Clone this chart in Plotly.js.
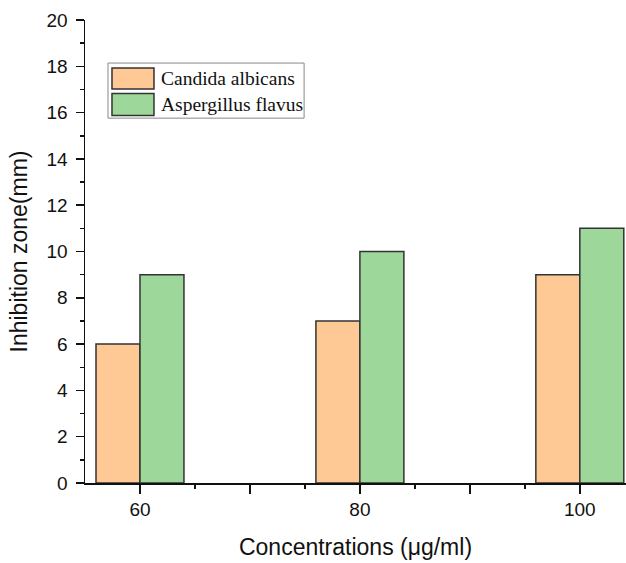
<!DOCTYPE html>
<html>
<head>
<meta charset="utf-8">
<script src="https://cdn.plot.ly/plotly-3.0.1.min.js"></script>
<style>html,body{margin:0;padding:0;background:#fff;}#chart{width:626px;height:563px;}</style>
</head>
<body>
<div id="chart"></div>
<script>
const concentrations = [60, 80, 100];
const candida = [6, 7, 9];
const aspergillus = [9, 10, 11];
const seriesNames = ['Candida albicans', 'Aspergillus flavus'];
const xTickVals = [60, 70, 80, 90, 100];
const xTickText = ['60', '', '80', '', '100'];
const yTickVals = [0, 2, 4, 6, 8, 10, 12, 14, 16, 18, 20];

const orange = '#FFC996';
const green = '#9DD89A';
const edge = '#333333';

const traces = [
  {type: 'bar', x: concentrations, y: candida, name: seriesNames[0], width: 4, offset: -4,
   marker: {color: orange, line: {color: edge, width: 1.5}}, showlegend: false},
  {type: 'bar', x: concentrations, y: aspergillus, name: seriesNames[1], width: 4, offset: 0,
   marker: {color: green, line: {color: edge, width: 1.5}}, showlegend: false}
];

const fam = 'Liberation Sans, Arial, sans-serif';
const serif = {family: 'Liberation Serif, Times New Roman, serif', size: 19.5, color: '#111'};

// legend (paper coordinates)
const lx0 = 0.0425, lx1 = 0.405, ly1 = 0.907, ly0 = 0.788;
const sw = [[0.0499, 0.1275, 0.8963, 0.8510], [0.0499, 0.1275, 0.8413, 0.7937]];
const colors = [orange, green];
const shapes = [{type: 'rect', xref: 'paper', yref: 'paper', x0: lx0, x1: lx1, y0: ly0, y1: ly1,
  line: {color: '#888', width: 1}, fillcolor: 'rgba(255,255,255,1)'}];
const annotations = [];
seriesNames.forEach((n, i) => {
  shapes.push({type: 'rect', xref: 'paper', yref: 'paper', x0: sw[i][0], x1: sw[i][1], y0: sw[i][3], y1: sw[i][2],
    line: {color: edge, width: 1.5}, fillcolor: colors[i]});
  annotations.push({xref: 'paper', yref: 'paper', x: 0.136, y: (sw[i][2] + sw[i][3]) / 2,
    xanchor: 'left', yanchor: 'middle', showarrow: false, text: n, font: serif});
});

const layout = {
  width: 626, height: 563,
  margin: {l: 85, r: 0, t: 20, b: 80},
  paper_bgcolor: '#fff', plot_bgcolor: '#fff',
  font: {family: fam, color: '#111'},
  xaxis: {
    range: [55, 104.2], showgrid: false, zeroline: false,
    showline: true, linecolor: '#111', linewidth: 1.5,
    tickmode: 'array', tickvals: xTickVals, ticktext: xTickText,
    ticks: 'outside', ticklen: 9, tickwidth: 1.5, tickcolor: '#111',
    minor: {tickvals: [65, 75, 85, 95], ticks: 'outside', ticklen: 4, tickwidth: 1.5, tickcolor: '#111'},
    tickfont: {size: 19, family: fam, color: '#111'},
    title: {text: 'Concentrations (μg/ml)', font: {size: 23, family: fam, color: '#111'}, standoff: 19}
  },
  yaxis: {
    range: [0, 20], showgrid: false, zeroline: false,
    showline: true, linecolor: '#111', linewidth: 1.5,
    tickmode: 'array', tickvals: yTickVals,
    ticks: 'outside', ticklen: 8, tickwidth: 1.5, tickcolor: '#111',
    ticklabelstandoff: 4,
    minor: {dtick: 1, ticks: 'outside', ticklen: 4, tickwidth: 1.5, tickcolor: '#111'},
    tickfont: {size: 19, family: fam, color: '#111'},
    title: {text: 'Inhibition zone(mm)', font: {size: 23, family: fam, color: '#111'}, standoff: 12}
  },
  shapes: shapes,
  annotations: annotations,
  showlegend: false
};

Plotly.newPlot('chart', traces, layout, {displayModeBar: false, staticPlot: true});
</script>
</body>
</html>
